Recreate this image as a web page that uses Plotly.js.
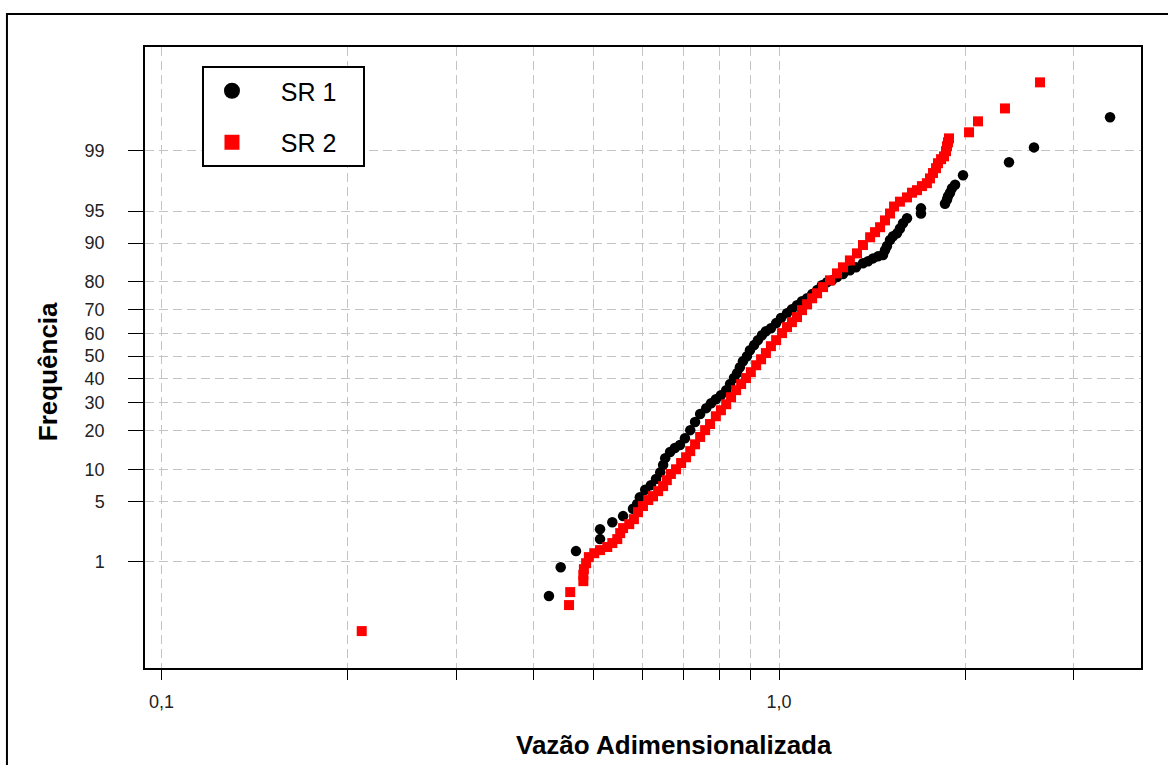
<!DOCTYPE html>
<html>
<head>
<meta charset="utf-8">
<script src="https://cdn.plot.ly/plotly-3.0.1.min.js"></script>
<style>html,body{margin:0;padding:0;background:#fff;}#chart{width:1168px;height:765px;}</style>
</head>
<body>
<div id="chart"></div>
<script>
// ---- data (x = vazão adimensionalizada, freq in %) ----
const sr1Vazao = [0.424,0.443,0.469,0.513,0.513,0.537,0.559,0.580,0.589,0.595,
  0.607,0.620,0.632,0.642,0.649,0.654,0.666,0.678,0.691,0.704,
  0.718,0.731,0.745,0.762,0.776,0.790,0.805,0.821,0.833,0.845,
  0.855,0.864,0.874,0.887,0.897,0.911,0.924,0.938,0.952,0.970,
  0.989,1.007,1.030,1.049,1.069,1.089,1.110,1.131,1.152,1.173,
  1.195,1.218,1.241,1.269,1.302,1.332,1.367,1.393,1.419,1.446,
  1.473,1.484,1.495,1.512,1.529,1.552,1.569,1.587,1.611,1.697,
  1.697,1.856,1.870,1.877,1.891,1.905,1.927,1.985,2.356,2.586,3.434];
const sr1Freq = [0.33,0.84,1.36,1.91,2.5,3.0,3.5,4.2,4.7,5.5,
  6.5,7.2,8.2,9.4,10.9,12.4,13.9,14.9,15.7,17.6,
  20.1,22.8,25.6,27.8,29.7,31.3,32.9,35.0,37.6,40.2,
  42.4,45.0,47.7,50.0,52.7,55.0,57.2,59.4,61.1,62.4,
  64.6,66.7,68.7,70.3,71.8,73.3,74.4,75.9,77.3,78.9,
  79.9,80.5,81.5,82.4,83.5,84.3,85.4,85.9,86.6,87.1,
  87.4,88.5,89.4,90.6,91.3,91.8,92.6,93.4,94.1,94.7,
  95.3,95.8,96.2,96.5,96.8,97.15,97.4,97.98,98.6,99.10,99.66];

const sr2Vazao = [0.211,0.457,0.459,0.482,0.482,0.483,0.487,0.492,0.502,0.513,
  0.527,0.537,0.547,0.553,0.559,0.572,0.582,0.591,0.602,0.614,
  0.625,0.637,0.649,0.658,0.668,0.681,0.694,0.707,0.718,0.731,
  0.745,0.759,0.773,0.790,0.805,0.821,0.836,0.852,0.868,0.884,
  0.900,0.918,0.935,0.952,0.970,0.989,1.011,1.030,1.049,1.069,
  1.089,1.110,1.131,1.152,1.178,1.209,1.241,1.269,1.302,1.337,
  1.367,1.404,1.430,1.457,1.484,1.512,1.535,1.569,1.611,1.641,
  1.672,1.703,1.735,1.755,1.775,1.795,1.808,1.829,1.849,1.863,
  1.870,1.877,1.884,2.030,2.099,2.321,2.645];
const sr2Freq = [0.092,0.24,0.376,0.54,0.66,0.79,0.95,1.14,1.28,1.40,
  1.53,1.71,1.91,2.25,2.57,2.85,3.24,3.86,4.47,5.15,
  5.64,6.31,7.05,8.0,9.1,10.0,11.3,12.6,14.1,15.9,
  18.0,20.1,22.1,24.8,27.0,29.3,32.1,35.0,37.6,40.2,
  42.8,45.9,48.6,51.4,54.5,57.2,60.3,62.9,65.0,67.1,
  69.9,72.2,74.4,76.2,78.3,80.5,82.6,84.3,86.1,87.8,
  89.6,91.1,92.0,92.8,93.8,94.7,95.5,96.0,96.4,96.8,
  97.0,97.3,97.5,97.8,98.1,98.34,98.56,98.72,98.82,98.99,
  99.13,99.23,99.32,99.44,99.61,99.75,99.904];

const seriesNames = ['SR 1', 'SR 2'];
const freqTicks = [1,5,10,20,30,40,50,60,70,80,90,95,99];
const vazaoTicks = [0.1,0.2,0.3,0.4,0.5,0.6,0.7,0.8,0.9,1,2,3];
const vazaoTickText = ['0,1','','','','','','','','','1,0','',''];
const xTitle = 'Vazão Adimensionalizada';
const yTitle = 'Frequência';

// ---- normal probability scale (inverse standard normal CDF, Acklam) ----
function probit(p){
  const a=[-3.969683028665376e+01,2.209460984245205e+02,-2.759285104469687e+02,1.383577518672690e+02,-3.066479806614716e+01,2.506628277459239e+00];
  const b=[-5.447609879822406e+01,1.615858368580409e+02,-1.556989798598866e+02,6.680131188771972e+01,-1.328068155288572e+01];
  const c=[-7.784894002430293e-03,-3.223964580411365e-01,-2.400758277161838e+00,-2.549732539343734e+00,4.374664141464968e+00,2.938163982698783e+00];
  const d=[7.784695709041462e-03,3.224671290700398e-01,2.445134137142996e+00,3.754408661907416e+00];
  const pl=0.02425, ph=1-pl; let q,r;
  if(p<pl){q=Math.sqrt(-2*Math.log(p));return (((((c[0]*q+c[1])*q+c[2])*q+c[3])*q+c[4])*q+c[5])/((((d[0]*q+d[1])*q+d[2])*q+d[3])*q+1);}
  if(p>ph){q=Math.sqrt(-2*Math.log(1-p));return -(((((c[0]*q+c[1])*q+c[2])*q+c[3])*q+c[4])*q+c[5])/((((d[0]*q+d[1])*q+d[2])*q+d[3])*q+1);}
  q=p-0.5;r=q*q;return (((((a[0]*r+a[1])*r+a[2])*r+a[3])*r+a[4])*r+a[5])*q/(((((b[0]*r+b[1])*r+b[2])*r+b[3])*r+b[4])*r+1);
}
const toProb = arr => arr.map(f => probit(f/100));

const FONT = 'Liberation Sans, Arial, Helvetica, sans-serif';
const NB = '\u00a0\u00a0\u00a0';

const traces = [
  {type:'scatter', mode:'markers', name:seriesNames[0], x:sr1Vazao, y:toProb(sr1Freq),
   customdata:sr1Freq, hovertemplate:'%{x}<br>%{customdata}%<extra>SR 1</extra>',
   marker:{symbol:'circle', size:10.5, color:'#000000'}, showlegend:false},
  {type:'scatter', mode:'markers', name:seriesNames[1], x:sr2Vazao, y:toProb(sr2Freq),
   customdata:sr2Freq, hovertemplate:'%{x}<br>%{customdata}%<extra>SR 2</extra>',
   marker:{symbol:'square', size:10, color:'#ff0000'}, showlegend:false},
  // legend entries
  {type:'scatter', mode:'markers', name:NB+seriesNames[0]+NB, x:[null], y:[null], legendgroup:'g1',
   marker:{symbol:'circle', size:16, color:'#000000'}, showlegend:true, hoverinfo:'skip'},
  {type:'scatter', mode:'markers', name:NB+seriesNames[1]+NB, x:[null], y:[null], legendgroup:'g2',
   marker:{symbol:'square', size:15, color:'#ff0000'}, showlegend:true, hoverinfo:'skip'}
];

const gridDash = '9px,5px';
const layout = {
  width:1168, height:765,
  paper_bgcolor:'#ffffff', plot_bgcolor:'#ffffff',
  margin:{l:145, r:27, t:47, b:97, pad:0},
  font:{family:FONT, color:'#222222'},
  showlegend:true,
  legend:{x:0.0572, y:0.9694, xanchor:'left', yanchor:'top',
    bgcolor:'#ffffff', bordercolor:'#000000', borderwidth:2,
    font:{family:FONT, size:25, color:'#000000'},
    itemwidth:46, tracegroupgap:16, traceorder:'grouped'},
  xaxis:{type:'log', range:[-1.0266, 0.5859], autorange:false,
    tickmode:'array', tickvals:vazaoTicks, ticktext:vazaoTickText,
    ticks:'outside', ticklen:10, tickwidth:1.2, tickcolor:'#000000',
    ticklabelstandoff:7,
    tickfont:{family:FONT, size:18, color:'#222222'},
    showline:true, linecolor:'#000000', linewidth:1.5, mirror:true,
    showgrid:true, gridcolor:'#c4c4c4', gridwidth:1, griddash:gridDash,
    zeroline:false, automargin:false},
  yaxis:{type:'linear', range:[-3.533, 3.503], autorange:false,
    tickmode:'array', tickvals:toProb(freqTicks), ticktext:freqTicks.map(String),
    ticks:'outside', ticklen:15, tickwidth:1.2, tickcolor:'#000000',
    ticklabelstandoff:20,
    tickfont:{family:FONT, size:18, color:'#222222'},
    showline:true, linecolor:'#000000', linewidth:1.5, mirror:true,
    showgrid:true, gridcolor:'#c4c4c4', gridwidth:1, griddash:gridDash,
    zeroline:false, automargin:false},
  annotations:[
    {text:'<b>'+xTitle+'</b>', xref:'paper', yref:'paper', x:0.5315, y:-0.124,
     xanchor:'center', yanchor:'middle', showarrow:false,
     font:{family:FONT, size:26, color:'#000000'}},
    {text:'<b>'+yTitle+'</b>', xref:'paper', yref:'paper', x:-0.0974, y:0.478,
     xanchor:'center', yanchor:'middle', showarrow:false, textangle:-90,
     font:{family:FONT, size:26, color:'#000000'}}
  ],
  shapes:[
    {type:'rect', xref:'paper', yref:'paper', x0:-0.1386, x1:1.2, y0:-0.4, y1:1.0531,
     line:{color:'#000000', width:2}, fillcolor:'rgba(0,0,0,0)', layer:'above'}
  ]
};

Plotly.newPlot('chart', traces, layout, {displayModeBar:false, staticPlot:false});
</script>
</body>
</html>
